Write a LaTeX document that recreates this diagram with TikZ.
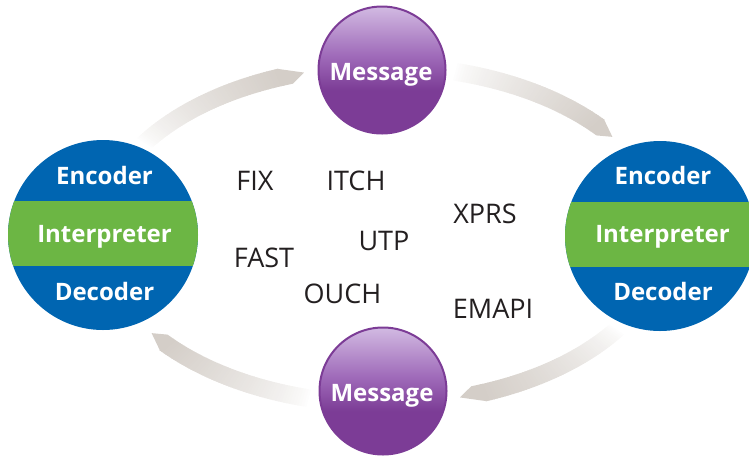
\documentclass[tikz,border=0pt]{standalone}
\usepackage{fontspec}
\usetikzlibrary{calc}
\newfontfamily\labelfont{Open Sans}
\definecolor{encblue}{RGB}{0,101,177}
\definecolor{intgreen}{RGB}{108,182,68}
\definecolor{flowgray}{RGB}{212,206,200}
\definecolor{msgdark}{RGB}{124,60,150}
\definecolor{msgmid}{RGB}{160,108,186}
\definecolor{msglight}{RGB}{210,186,226}
\definecolor{protoink}{RGB}{35,31,32}
\pgfdeclareverticalshading{msgshade}{100bp}{color(0bp)=(msgdark); color(25bp)=(msgdark); color(42bp)=(msgdark); color(56bp)=(msgmid); color(75bp)=(msglight); color(100bp)=(msglight)}

% curved band on the ellipse (centre 382,235; semi-axes 283,169),
% fading from the tail angle #1 to a pointed head at angle #2
\newcommand\flowband[2]{%
  \pgfmathsetmacro\fbEnd{#2+5}%
  \pgfmathsetmacro\fbStep{(#1-\fbEnd)/60}%
  \foreach \i in {0,...,59}{%
    \pgfmathsetmacro\fbA{#1-\i*\fbStep}%
    \pgfmathsetmacro\fbB{\fbA-\fbStep-0.15}%
    \pgfmathsetmacro\fbP{100*((\i+0.5)/60)^0.7}%
    \fill[flowgray!\fbP!white]
      ({382+292*cos(\fbA)},{235-178*sin(\fbA)}) --
      ({382+292*cos(\fbB)},{235-178*sin(\fbB)}) --
      ({382+274*cos(\fbB)},{235-160*sin(\fbB)}) --
      ({382+274*cos(\fbA)},{235-160*sin(\fbA)}) -- cycle;
  }%
  \fill[flowgray]
    ({382+292*cos(#2+5)},{235-178*sin(#2+5)}) --
    ({382+283*cos(#2)},{235-169*sin(#2)}) --
    ({382+274*cos(#2+3)},{235-160*sin(#2+3)}) --
    ({382+274*cos(#2+5.2)},{235-160*sin(#2+5.2)}) -- cycle;
}

\tikzset{
  codec/.style={circle, minimum size=190pt, inner sep=0pt, fill=encblue,
    path picture={\fill[intgreen]
      ($(path picture bounding box.center)+(-100,-34)$) rectangle
      ($(path picture bounding box.center)+(100,31)$);}},
  codectext/.style={anchor=base, inner sep=0pt, text=white,
    font=\labelfont\bfseries\fontsize{24}{24}\selectfont},
  msg/.style={circle, minimum size=127pt, inner sep=0pt, shading=msgshade,
    draw=msgdark, line width=2pt},
  msgtext/.style={anchor=base, inner sep=0pt, text=white,
    font=\labelfont\bfseries\fontsize{24}{24}\selectfont},
  proto/.style={anchor=base, inner sep=0pt, text=protoink,
    font=\labelfont\fontsize{27}{27}\selectfont}
}

\begin{document}
\begin{tikzpicture}[x=1pt, y=-1pt]
  \useasboundingbox (0,0) rectangle (749,456);
  \clip (0,0) rectangle (749,456);

  % cycle arrows
  \flowband{147}{106}
  \flowband{75}{35.5}
  \flowband{326}{286}
  \flowband{255}{215.5}

  % codec circles
  \node[codec] (lcodec) at (103,235) {};
  \node[codectext] (lenc) at (104.5,184) {Encoder};
  \node[codectext] (lint) at (104.5,242) {Interpreter};
  \node[codectext] (ldec) at (104.5,300) {Decoder};

  \node[codec] (rcodec) at (660,236) {};
  \node[codectext] (renc) at (663,184) {Encoder};
  \node[codectext] (rint) at (662.5,242) {Interpreter};
  \node[codectext] (rdec) at (663,300) {Decoder};

  % message circles
  \node[msg] (mtop) at (382,70) {};
  \node[msgtext] (mtoptext) at (381,80) {Message};
  \node[msg] (mbot) at (383,391) {};
  \node[msgtext] (mbottext) at (382,401) {Message};

  % protocol names
  \node[proto] (fix)   at (255,190) {FIX};
  \node[proto] (itch)  at (356,190) {ITCH};
  \node[proto] (xprs)  at (485,223) {XPRS};
  \node[proto] (utp)   at (384,250) {UTP};
  \node[proto] (fast)  at (264,267) {FAST};
  \node[proto] (ouch)  at (342.5,303) {OUCH};
  \node[proto] (emapi) at (493,318) {EMAPI};
\end{tikzpicture}
\end{document}
